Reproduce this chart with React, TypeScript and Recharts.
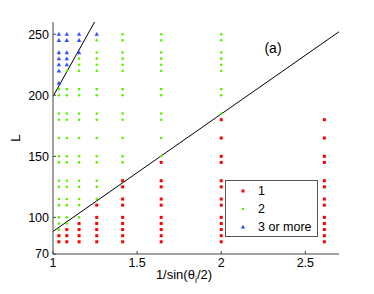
import {
  ScatterChart,
  Scatter,
  XAxis,
  YAxis,
  ReferenceLine,
  Legend,
  Label,
  Customized,
} from "recharts";

// 1/sin(theta_i/2) for theta_i = 150, 135, 120, 105, 90, 75, 60, 45 deg
const invSin = [1.035, 1.082, 1.155, 1.26, 1.414, 1.643, 2.0, 2.613];

const xTicks = [1, 1.5, 2, 2.5];
const yTicks = [70, 100, 150, 200, 250];

// L values per column (same order as invSin)
const redL = [
  [85, 80],
  [90, 85, 80],
  [95, 90, 85, 80],
  [110, 100, 95, 90, 85, 80],
  [130, 125, 115, 110, 100, 95, 90, 85, 80],
  [145, 130, 125, 115, 110, 100, 95, 90, 85, 80],
  [180, 165, 150, 145, 130, 125, 115, 110, 100, 95, 90, 85, 80],
  [180, 165, 150, 145, 130, 125, 115, 110, 100, 95, 90, 85, 80],
];

const greenL = [
  [205, 200, 185, 180, 165, 150, 145, 130, 125, 115, 110, 100, 95, 90],
  [220, 205, 200, 185, 180, 165, 150, 145, 130, 125, 115, 110, 100, 95],
  [230, 225, 220, 205, 200, 185, 180, 165, 150, 145, 130, 125, 115, 110, 100],
  [245, 235, 230, 225, 220, 205, 200, 185, 180, 165, 150, 145, 130, 125, 115],
  [250, 245, 235, 230, 225, 220, 205, 200, 185, 180, 165, 150, 145],
  [250, 245, 235, 230, 225, 220, 205, 200, 185, 180, 165, 150],
  [250, 245, 235, 230, 225, 220, 205, 200, 185],
  [],
];

const blueL = [
  [250, 245, 235, 230, 225, 220, 210],
  [250, 245, 235, 230, 225],
  [250, 245, 235],
  [250],
  [],
  [],
  [],
  [],
];

const seriesNames = ["1", "2", "3 or more"];

// boundary lines (end points)
const upperLine = [
  { x: 1, y: 199 },
  { x: 1.247, y: 260 },
];
const lowerLine = [
  { x: 1, y: 88.5 },
  { x: 2.7, y: 252 },
];

const font = "'Liberation Sans', Arial, sans-serif";
const RED = "#ff0000";
const GREEN = "#5cf000";
const BLUE = "#2e4dff";
const AXIS = "#444";

const toPoints = (cols: number[][]) =>
  cols.flatMap((ls, i) => ls.map((l) => ({ x: invSin[i], y: l })));

const redData = toPoints(redL);
const greenData = toPoints(greenL);
const blueData = toPoints(blueL);

const RedSquare = (p: any) => (
  <rect x={p.cx - 1.5} y={p.cy - 1.5} width={3} height={3} fill={RED} />
);
const GreenDot = (p: any) => <circle cx={p.cx} cy={p.cy} r={1.3} fill={GREEN} />;
const BlueTri = (p: any) => (
  <polygon
    points={`${p.cx},${p.cy - 2.2} ${p.cx - 2.2},${p.cy + 1.6} ${p.cx + 2.2},${p.cy + 1.6}`}
    fill={BLUE}
  />
);

const markers = [
  <RedSquare cx={5} cy={5} />,
  <GreenDot cx={5} cy={5} />,
  <BlueTri cx={5} cy={5} />,
];

const LegendBox = () => (
  <div
    style={{
      position: "relative",
      width: 93,
      height: 57,
      boxSizing: "border-box",
      border: "1px solid #555",
      background: "#fff",
      fontFamily: font,
      fontSize: 12.5,
      color: "#000",
    }}
  >
    {seriesNames.map((name, i) => (
      <div key={name}>
        <svg
          width={10}
          height={10}
          style={{ position: "absolute", left: 12, top: 5 + i * 18 }}
        >
          {markers[i]}
        </svg>
        <span
          style={{
            position: "absolute",
            left: 32,
            top: 2 + i * 18,
            lineHeight: "16px",
            whiteSpace: "nowrap",
          }}
        >
          {name}
        </span>
      </div>
    ))}
  </div>
);

const XTitle = () => (
  <text x={184} y={279} textAnchor="middle" fontFamily={font} fontSize={13} fill="#000">
    1/sin(θ
    <tspan fontSize={9} dy={4}>
      i
    </tspan>
    <tspan dy={-4}>/2)</tspan>
  </text>
);

const YTitle = () => (
  <text
    transform="translate(20,138) rotate(-90)"
    textAnchor="middle"
    fontFamily={font}
    fontSize={13.5}
    fill="#000"
  >
    L
  </text>
);

const PanelTag = () => (
  <text x={273} y={53} textAnchor="middle" fontFamily={font} fontSize={14} fill="#000">
    (a)
  </text>
);

const tickStyle = { fill: "#000", fontSize: 12.5, fontFamily: font };

export default function App() {
  return (
    <div style={{ position: "absolute", left: 0, top: 0, background: "#fff" }}>
      <ScatterChart
        width={374}
        height={294}
        margin={{ top: 22, right: 35, bottom: 0, left: 0 }}
      >
        <XAxis
          type="number"
          dataKey="x"
          domain={[1, 2.7]}
          ticks={xTicks}
          allowDataOverflow
          height={40}
          tickSize={-3}
          tickMargin={7}
          tick={tickStyle}
          axisLine={{ stroke: AXIS }}
          tickLine={{ stroke: AXIS }}
        >
          <Label content={XTitle} />
        </XAxis>
        <XAxis
          xAxisId="top"
          orientation="top"
          type="number"
          dataKey="x"
          domain={[1, 2.7]}
          ticks={xTicks}
          allowDataOverflow
          height={0}
          tickSize={-3}
          tick={false}
          axisLine={{ stroke: AXIS }}
          tickLine={{ stroke: AXIS }}
        />
        <YAxis
          type="number"
          dataKey="y"
          domain={[70, 260]}
          ticks={yTicks}
          allowDataOverflow
          width={53}
          tickSize={-3}
          tickMargin={7}
          tick={tickStyle}
          axisLine={{ stroke: AXIS }}
          tickLine={{ stroke: AXIS }}
        >
          <Label content={YTitle} />
        </YAxis>
        <YAxis
          yAxisId="right"
          orientation="right"
          type="number"
          dataKey="y"
          domain={[70, 260]}
          ticks={yTicks}
          allowDataOverflow
          width={0}
          tickSize={-3}
          tick={false}
          axisLine={{ stroke: AXIS }}
          tickLine={{ stroke: AXIS }}
        />
        <ReferenceLine segment={upperLine} stroke="#000" strokeWidth={1} ifOverflow="hidden" />
        <ReferenceLine segment={lowerLine} stroke="#000" strokeWidth={1} ifOverflow="hidden" />
        <Scatter name="1" data={redData} shape={RedSquare} isAnimationActive={false} />
        <Scatter name="2" data={greenData} shape={GreenDot} isAnimationActive={false} />
        <Scatter name="3 or more" data={blueData} shape={BlueTri} isAnimationActive={false} />
        <Customized component={PanelTag} />
        <Legend
          layout="vertical"
          align="center"
          verticalAlign="middle"
          content={LegendBox}
          wrapperStyle={{ left: 225, top: 180, width: 93, height: 57 }}
        />
      </ScatterChart>
    </div>
  );
}
